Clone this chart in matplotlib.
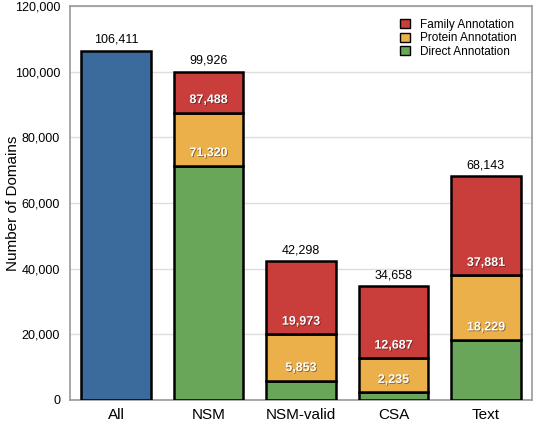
import matplotlib.pyplot as plt
import matplotlib.patheffects as pe
from matplotlib.patches import Patch
from matplotlib.ticker import FuncFormatter

plt.rcParams['font.family'] = ['Liberation Sans', 'DejaVu Sans']

# Data (cumulative boundary values)
categories = ['All', 'NSM', 'NSM-valid', 'CSA', 'Text']
all_total = 106411
direct_top = [71320, 5853, 2235, 18229]
protein_top = [87488, 19973, 12687, 37881]
family_top = [99926, 42298, 34658, 68143]

blue = '#3b6b9c'
red = '#c93d3b'
orange = '#ecb04b'
green = '#69a659'

fig = plt.figure(figsize=(5.37, 4.24), dpi=100)
ax = fig.add_axes([0.130, 0.057, 0.861, 0.929])

x_all = 0
x_st = list(range(1, len(categories)))
w = 0.75
lw = 1.8

ax.bar(x_all, all_total, width=w, color=blue, edgecolor='black', linewidth=lw, zorder=3)

protein_seg = [p - d for p, d in zip(protein_top, direct_top)]
family_seg = [f - p for f, p in zip(family_top, protein_top)]

ax.bar(x_st, direct_top, width=w, color=green, edgecolor='black', linewidth=lw, zorder=3)
ax.bar(x_st, protein_seg, bottom=direct_top, width=w, color=orange,
       edgecolor='black', linewidth=lw, zorder=3)
ax.bar(x_st, family_seg, bottom=protein_top, width=w, color=red,
       edgecolor='black', linewidth=lw, zorder=3)

shadow = [pe.withSimplePatchShadow(offset=(0.6, -0.6), shadow_rgbFace='black', alpha=0.45)]

# totals above bars
ax.text(x_all, all_total + 1500, f'{all_total:,}', ha='center', va='bottom', fontsize=9)
for x, t in zip(x_st, family_top):
    ax.text(x, t + 1500, f'{t:,}', ha='center', va='bottom', fontsize=9)

# boundary labels inside the segments
for x, d, p in zip(x_st, direct_top, protein_top):
    ax.text(x, d + 2000, f'{d:,}', ha='center', va='bottom', fontsize=9,
            color='white', fontweight='bold', path_effects=shadow, zorder=4)
    ax.text(x, p + 2000, f'{p:,}', ha='center', va='bottom', fontsize=9,
            color='white', fontweight='bold', path_effects=shadow, zorder=4)

ax.set_xlim(-0.5, 4.5)
ax.set_ylim(0, 120000)
ax.set_yticks(range(0, 120001, 20000))
ax.yaxis.set_major_formatter(FuncFormatter(lambda v, _: f'{int(v):,}'))
ax.set_xticks(range(len(categories)))
ax.set_xticklabels(categories, fontsize=11)
ax.tick_params(axis='y', labelsize=9, length=0, pad=7)
ax.tick_params(axis='x', length=0, pad=6)
ax.set_ylabel('Number of Domains', fontsize=11)
ax.yaxis.set_label_coords(-0.108, 0.5)

ax.grid(axis='y', color='#dddddd', linewidth=1, zorder=0)
for s in ax.spines.values():
    s.set_color('#999999')
    s.set_linewidth(1.2)

handles = [Patch(facecolor=red, edgecolor='black', label='Family Annotation'),
           Patch(facecolor=orange, edgecolor='black', label='Protein Annotation'),
           Patch(facecolor=green, edgecolor='black', label='Direct Annotation')]
ax.legend(handles=handles, loc='upper right', frameon=False, fontsize=8.5,
          handlelength=0.8, handleheight=0.8, labelspacing=0.15,
          handletextpad=0.9, bbox_to_anchor=(0.99, 0.995))

fig.savefig('out.png', dpi=100)
